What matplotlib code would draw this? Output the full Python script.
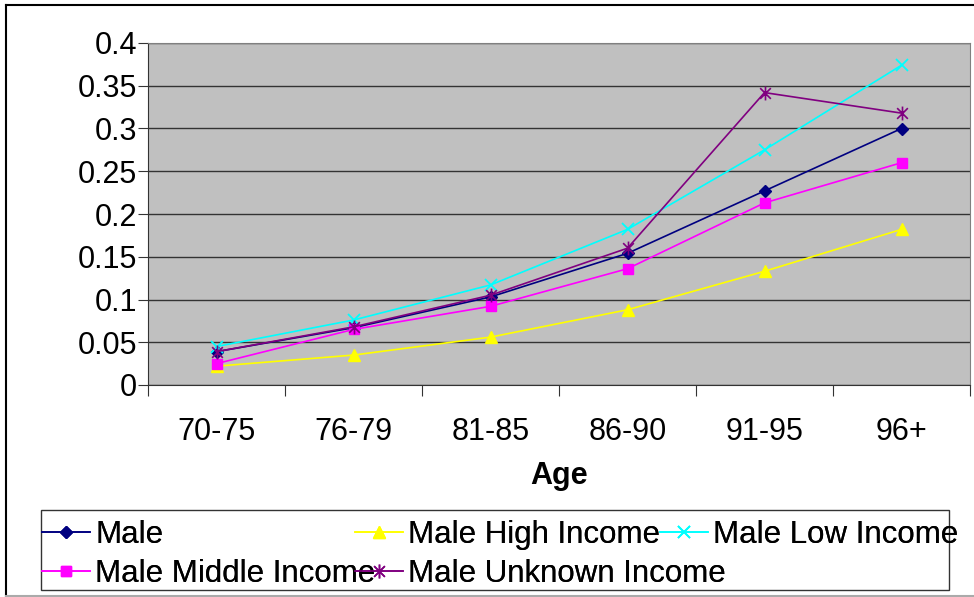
import matplotlib.pyplot as plt
from matplotlib.lines import Line2D
from matplotlib.patches import Rectangle
from matplotlib.path import Path
import numpy as np

plt.rcParams['font.family'] = ['Liberation Sans', 'DejaVu Sans']

ages = ['70-75', '76-79', '81-85', '86-90', '91-95', '96+']
male = [0.039, 0.067, 0.103, 0.154, 0.227, 0.300]
male_high = [0.022, 0.035, 0.056, 0.088, 0.133, 0.182]
male_low = [0.045, 0.076, 0.117, 0.182, 0.275, 0.374]
male_middle = [0.025, 0.065, 0.092, 0.136, 0.213, 0.260]
male_unknown = [0.039, 0.068, 0.105, 0.160, 0.342, 0.318]

# excel style star: an x with a vertical bar
star = Path([(-1, -1), (1, 1), (-1, 1), (1, -1), (0, -1.3), (0, 1.3)],
            [Path.MOVETO, Path.LINETO, Path.MOVETO, Path.LINETO, Path.MOVETO, Path.LINETO])

fig = plt.figure(figsize=(9.74, 5.97), dpi=100)
ax = fig.add_axes([148/974, 1-385/597, 822/974, 342/597])
ax.set_facecolor('#C0C0C0')

x = np.arange(len(ages)) + 0.5
l1, = ax.plot(x, male, color='#000080', marker='D', ms=6, lw=1.2, label='Male')
l2, = ax.plot(x, male_high, color='#FFFF00', marker='^', ms=9, lw=1.2, label='Male High Income')
l3, = ax.plot(x, male_low, color='#00FFFF', marker='x', ms=9, mew=1.3, lw=1.2, label='Male Low Income')
l4, = ax.plot(x, male_middle, color='#FF00FF', marker='s', ms=7, lw=1.2, label='Male Middle Income')
l5, = ax.plot(x, male_unknown, color='#800080', marker=star, ms=10, mew=1.2, lw=1.2, label='Male Unknown Income')

ax.set_xlim(0, 6)
ax.set_ylim(0, 0.4)
ax.set_yticks(np.arange(0, 0.41, 0.05))
ax.set_yticklabels(['0', '0.05', '0.1', '0.15', '0.2', '0.25', '0.3', '0.35', '0.4'])
ax.yaxis.grid(True, color='#333333', lw=1)
ax.set_axisbelow(True)
ax.set_xticks(np.arange(0, 7))
ax.set_xticklabels([])
ax.set_xticks(x, minor=True)
ax.set_xticklabels(ages, minor=True)
ax.tick_params(axis='x', which='major', length=8, direction='out', color='#333333')
ax.tick_params(axis='x', which='minor', length=0, pad=23, labelsize=22)
ax.tick_params(axis='y', length=7, direction='out', pad=1, labelsize=22, color='#333333')
for s in ['top', 'right']:
    ax.spines[s].set_color('#808080')
for s in ['left', 'bottom']:
    ax.spines[s].set_color('#333333')
ax.set_xlabel('Age', fontsize=22, fontweight='bold', labelpad=10)

# legend box and three column legends (columns overlap like the original)
fig.add_artist(Rectangle((41/974, 1-590/597), 908/974, 80/597, transform=fig.transFigure,
                         fill=False, edgecolor='#333333', lw=1))
cols = [([l1, l4], 42), ([l2, l5], 355), ([l3], 660)]
for hs, xpos in cols:
    leg = fig.legend(handles=hs, loc='upper left', bbox_to_anchor=(xpos/974, 1-520/597),
                     frameon=False, fontsize=22.5, handlelength=1.55, handletextpad=0.15,
                     labelspacing=0.3, borderpad=0, borderaxespad=0)
    fig.add_artist(leg)

# outer chart frame
fig.add_artist(Line2D([6/974, 6/974], [0, 1-5/597], color='black', lw=1.5, transform=fig.transFigure))
fig.add_artist(Line2D([6/974, 1], [1-5/597, 1-5/597], color='black', lw=1.5, transform=fig.transFigure))
fig.add_artist(Line2D([6/974, 1], [1/597, 1/597], color='#AAAAAA', lw=1.5, transform=fig.transFigure))

fig.savefig('out.png', dpi=100)
